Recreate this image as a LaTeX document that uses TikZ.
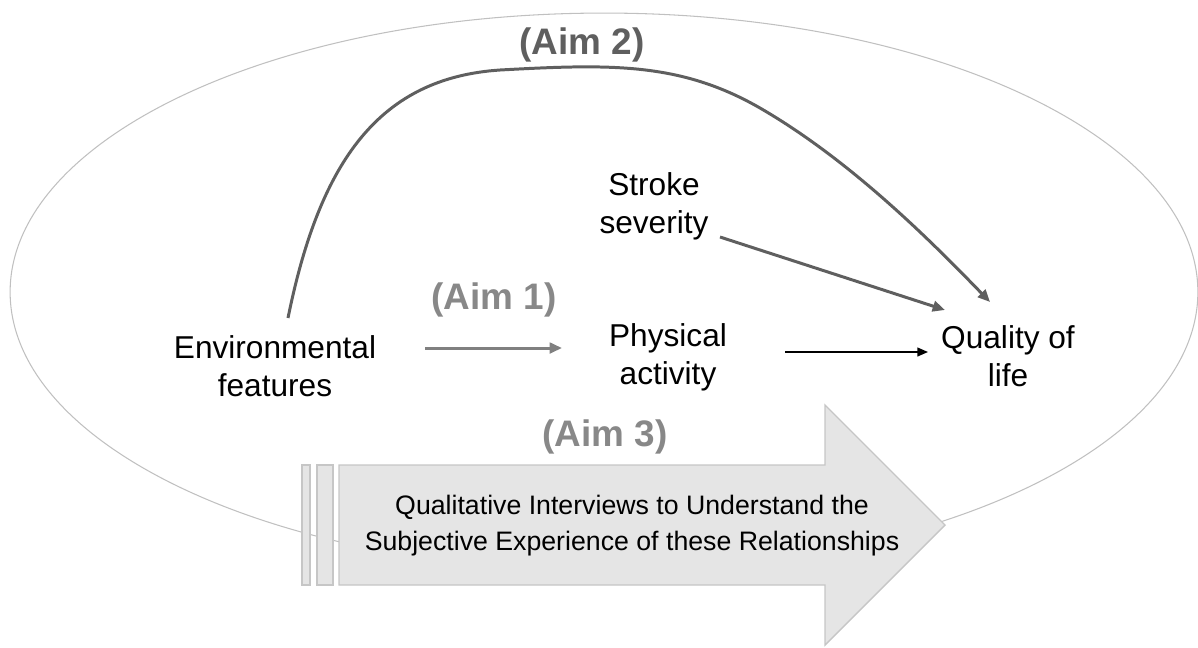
\documentclass[tikz,border=0pt]{standalone}
\usepackage{fontspec}
\setmainfont{Liberation Sans}
\usetikzlibrary{arrows.meta,calc,positioning}

\definecolor{r192g192b192}{rgb}{0.752941,0.752941,0.752941}
\definecolor{r229g229b229}{rgb}{0.898039,0.898039,0.898039}
\definecolor{r198g198b198}{rgb}{0.776471,0.776471,0.776471}
\definecolor{r95g95b95}{rgb}{0.372549,0.372549,0.372549}
\definecolor{r128g128b128}{rgb}{0.501961,0.501961,0.501961}
\definecolor{r136g136b136}{rgb}{0.533333,0.533333,0.533333}

\tikzset{
  factor/.style={align=center,inner sep=0pt,font=\fontsize{18}{21.5}\selectfont},
  aimlabel/.style={font=\fontsize{21}{24}\selectfont\bfseries,text=r136g136b136},
  boxtext/.style={align=center,inner sep=0pt,font=\fontsize{15.2}{20.4}\selectfont},
  ring/.style={draw=r192g192b192,line width=0.6pt},
  bigarrow/.style={fill=r229g229b229,draw=r198g198b198,line width=0.8pt},
  grayarrow/.style={line width=1.7pt,-{Triangle[length=7pt,width=6pt]}},
  thinarrow/.style={line width=0.85pt,-{Triangle[length=6pt,width=5pt]}}
}

\begin{document}
\begin{tikzpicture}[x=0.02cm,y=-0.02cm]
  \useasboundingbox (0,0) rectangle (1198,647);

  % Drawing ellipse
  \draw[ring] (604,292) ellipse [x radius=11.88cm, y radius=5.58cm];

  % Filling big arrow and stripes
  \draw[bigarrow] (302,465) rectangle (310,585);
  \draw[bigarrow] (317,465) rectangle (333,585);
  \draw[bigarrow] (339,465) -- (825,465) -- (825,405) -- (945,525)
    -- (825,645) -- (825,585) -- (339,585) -- cycle;

  % Placing factors
  \node[factor] (env) at (275,366) {Environmental\\features};
  \node[factor] (stroke) at (654,206) {Stroke\\severity};
  \node[factor] (pa) at (668,357) {Physical\\activity};
  \node[factor] (qol) at (1008,356) {Quality of\\life};
  \node[boxtext] (qual) at (632,526) {Qualitative Interviews to Understand the\\Subjective Experience of these Relationships};

  % Placing aim labels
  \node[aimlabel,text=r95g95b95] (aim2) at (582,45) {(Aim 2)};
  \node[aimlabel] (aim1) at (494,300) {(Aim 1)};
  \node[aimlabel] (aim3) at (605,437) {(Aim 3)};

  % Drawing line env pa
  \draw[grayarrow,r128g128b128] ([shift={(150,-18)}]env.center) -- ([shift={(-106,-9)}]pa.center);

  % Drawing line pa qol
  \draw[thinarrow,black] ([shift={(117,-5)}]pa.center) -- ([shift={(-80,-4)}]qol.center);

  % Drawing line stroke qol
  \draw[grayarrow,r95g95b95] ([shift={(66,31)}]stroke.center) -- ([shift={(-63,-46)}]qol.center);

  % Drawing curve env qol
  \draw[grayarrow,r95g95b95] ([shift={(13,-48)}]env.center)
    .. controls (320,160) and (380,78) .. (500,70)
    .. controls (610,64) and (680,62) .. (760,108)
    .. controls (850,160) and (930,240) .. ([shift={(-18,-54)}]qol.center);
\end{tikzpicture}
\end{document}
